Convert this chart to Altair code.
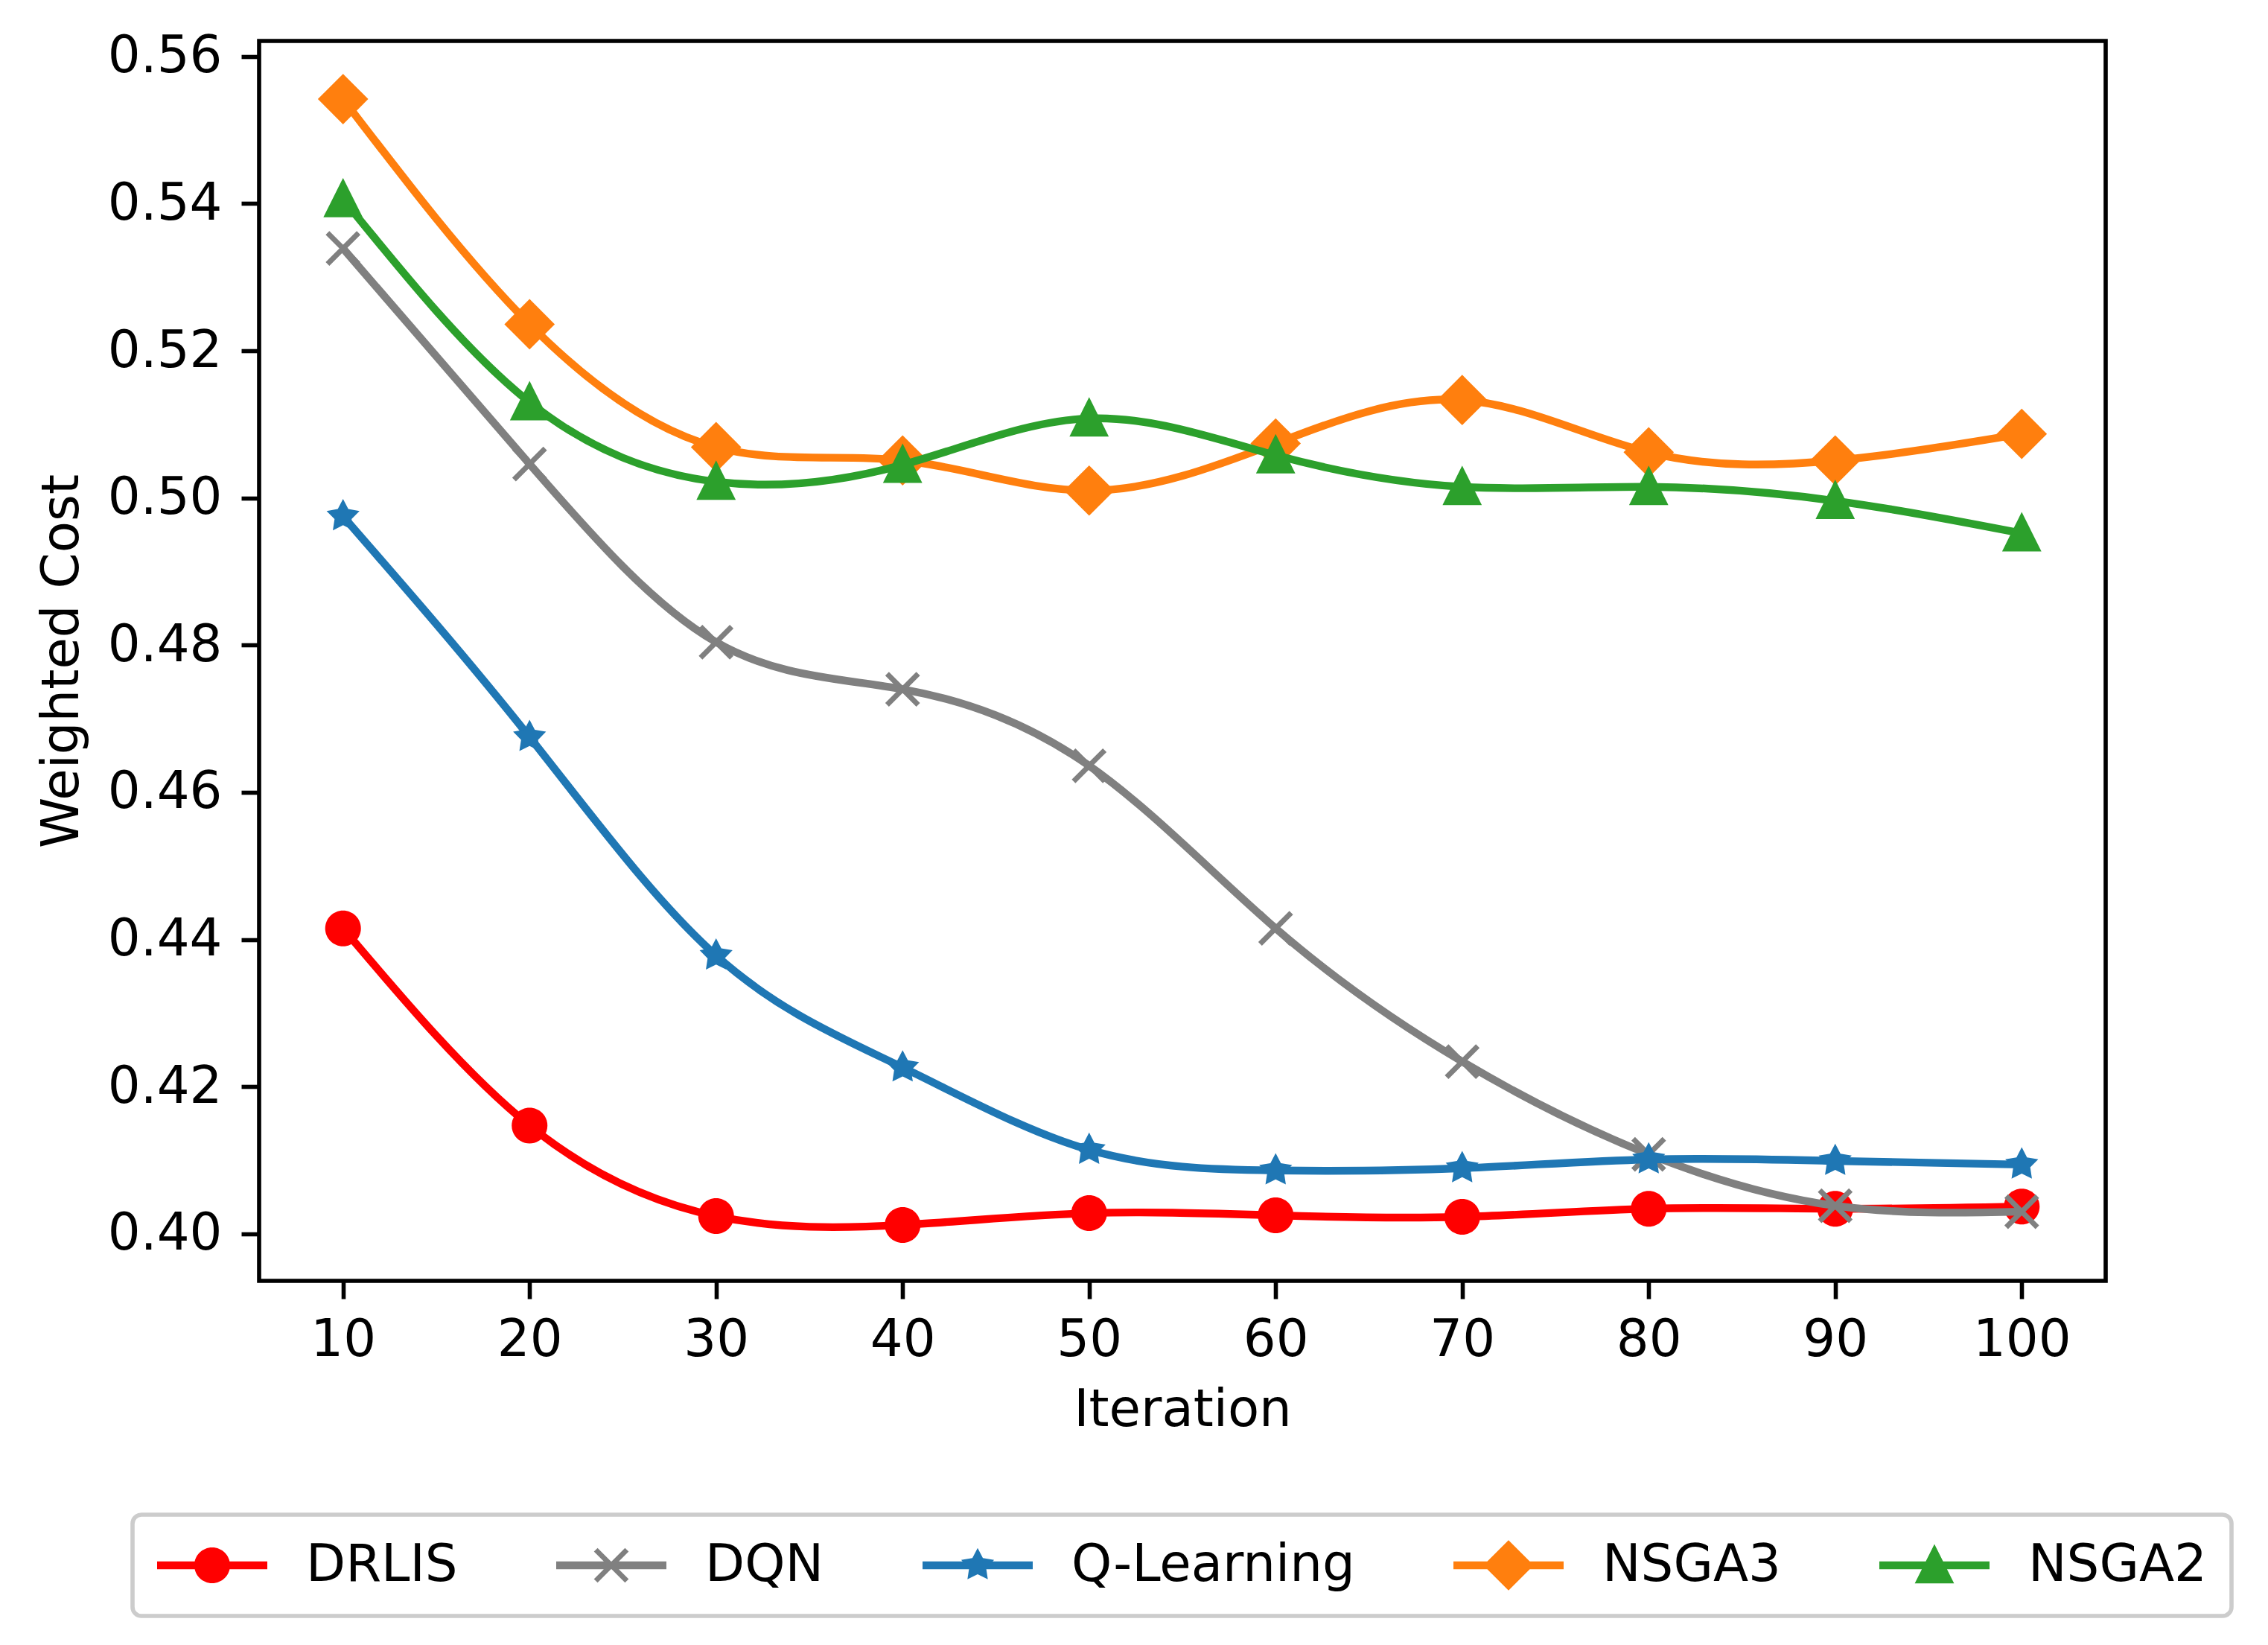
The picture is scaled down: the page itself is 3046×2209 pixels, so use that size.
import math
import altair as alt
import pandas as pd

# ---------------- data ----------------
iterations = [10, 20, 30, 40, 50, 60, 70, 80, 90, 100]
series_names = ["DRLIS", "DQN", "Q-Learning", "NSGA3", "NSGA2"]
drlis = [0.4415, 0.4147, 0.4024, 0.4012, 0.4028, 0.4025, 0.4023, 0.4034, 0.4034, 0.4037]
dqn = [0.5339, 0.5046, 0.4804, 0.4740, 0.4636, 0.4415, 0.4234, 0.4108, 0.4038, 0.4030]
qlearning = [0.4975, 0.4675, 0.4378, 0.4226, 0.4114, 0.4086, 0.4089, 0.4101, 0.4099, 0.4094]
nsga3 = [0.5542, 0.5236, 0.5069, 0.5051, 0.5010, 0.5074, 0.5133, 0.5062, 0.5051, 0.5087]
nsga2 = [0.5406, 0.5130, 0.5022, 0.5045, 0.5108, 0.5058, 0.5015, 0.5015, 0.4996, 0.4952]
y_ticks = [0.40, 0.42, 0.44, 0.46, 0.48, 0.50, 0.52, 0.54, 0.56]

colors = ["#ff0000", "#808080", "#1f77b4", "#ff7f0e", "#2ca02c"]
values = [drlis, dqn, qlearning, nsga3, nsga2]

rows = []
for name, vals in zip(series_names, values):
    for it, v in zip(iterations, vals):
        rows.append({"series": name, "iteration": it, "cost": v})
df = pd.DataFrame(rows)

# ---------------- marker shapes (unit box, 1 unit = 24 px) ----------------
def orient(pts):
    a = 0.0
    n = len(pts)
    for i in range(n):
        x1, y1 = pts[i]
        x2, y2 = pts[(i + 1) % n]
        a += x1 * y2 - x2 * y1
    return pts if a > 0 else pts[::-1]


def poly(pts, k=1.0, dx=0.0):
    pts = orient(pts)
    return "M" + "L".join(f"{x * k + dx:.4f},{y * k:.4f}" for x, y in pts) + "Z"


def circle_path(k=1.0, dx=0.0):
    r = 1.0 * k
    return (f"M{dx + r:.4f},0A{r:.4f},{r:.4f} 0 1,1 {dx - r:.4f},0"
            f"A{r:.4f},{r:.4f} 0 1,1 {dx + r:.4f},0Z")


def x_path(k=1.0, dx=0.0):
    a, t = 0.87, 0.103
    p1 = [(-a + t, -a - t), (a + t, a - t), (a - t, a + t), (-a - t, -a + t)]
    p2 = [(-a + t, a + t), (a + t, -a + t), (a - t, -a - t), (-a - t, a - t)]
    return poly(p1, k, dx) + poly(p2, k, dx)


def star_path(k=1.0, dx=0.0):
    R, r = 0.97, 0.50
    pts = []
    for i in range(10):
        ang = math.radians(-90 + 36 * i)
        rad = R if i % 2 == 0 else r
        pts.append((rad * math.cos(ang), rad * math.sin(ang)))
    return poly(pts, k, dx)


def diamond_path(k=1.0, dx=0.0):
    d = 1.41
    return poly([(0, -d), (d, 0), (0, d), (-d, 0)], k, dx)


def triangle_path(k=1.0, dx=0.0):
    return poly([(0, -1.19), (1.10, 1.015), (-1.10, 1.015)], k, dx)


marker_fns = [circle_path, x_path, star_path, diamond_path, triangle_path]
marker_paths = [f() for f in marker_fns]

# legend symbols: handle line + marker; legend symbol box 70 px -> 1 unit = 35 px
LEG_UNIT = 35.0
half_handle = 74.0 / LEG_UNIT
cx = -1.0 + half_handle          # marker centre so the handle starts at the entry's left edge
k = 24.0 / LEG_UNIT
h = 5.2 / LEG_UNIT
handle = poly([(cx - half_handle, -h), (cx + half_handle, -h),
               (cx + half_handle, h), (cx - half_handle, h)])
legend_paths = [handle + f(k, cx) for f in marker_fns]

FONT = "DejaVu Sans"

X = alt.X(
    "iteration:Q",
    scale=alt.Scale(domain=[5.5, 104.5], nice=False, zero=False),
    axis=alt.Axis(values=iterations, title="Iteration", labelPadding=21,
                  titlePadding=25, labelFlush=False),
)
Y = alt.Y(
    "cost:Q",
    scale=alt.Scale(domain=[0.3936, 0.5621], nice=False, zero=False),
    axis=alt.Axis(values=y_ticks, format=".2f", title="Weighted Cost",
                  labelPadding=26, titlePadding=30, labelFlush=False),
)

layers = []
for name, col, mk in zip(series_names, colors, marker_paths):
    base = alt.Chart(df).transform_filter(alt.datum.series == name)
    layers.append(
        base.mark_line(interpolate="natural", color=col, strokeWidth=10.4).encode(x=X, y=Y)
    )
    layers.append(
        base.mark_point(shape=mk, filled=True, size=2304, color=col, opacity=1,
                        strokeWidth=0).encode(x=X, y=Y)
    )

leg = alt.Legend(
    title=None, orient="none", legendX=-170, legendY=1979,
    direction="horizontal", columns=5, columnPadding=132, labelOffset=130,
    padding=33, symbolSize=4900, symbolStrokeWidth=0, symbolOpacity=1,
    labelFontSize=69, labelFont=FONT, labelColor="black", labelLimit=2000,
    strokeColor="#cccccc", fillColor="white", cornerRadius=12,
)
legend_layer = (
    alt.Chart(df)
    .transform_filter("false")
    .mark_point(filled=True, opacity=1, size=2304)
    .encode(
        x=X, y=Y,
        color=alt.Color("series:N", scale=alt.Scale(domain=series_names, range=colors), legend=leg),
        shape=alt.Shape("series:N", scale=alt.Scale(domain=series_names, range=legend_paths), legend=leg),
    )
)
layers.append(legend_layer)

chart = (
    alt.layer(*layers)
    .properties(
        width=2480, height=1665,
        autosize=alt.AutoSizeParams(type="none"),
        padding={"left": 340, "top": 47, "right": 210, "bottom": 481},
        background="white",
    )
    .configure_view(stroke="black", strokeWidth=5.6)
    .configure_axis(
        domain=False, grid=False, tickColor="black", tickWidth=5.6, tickSize=24,
        labelFont=FONT, labelFontSize=69, labelColor="black",
        titleFont=FONT, titleFontSize=69, titleFontWeight="normal", titleColor="black",
    )
    .configure_legend(strokeWidth=5.6)
)

chart.save("out.html", embed_options={"renderer": "svg", "actions": False})
